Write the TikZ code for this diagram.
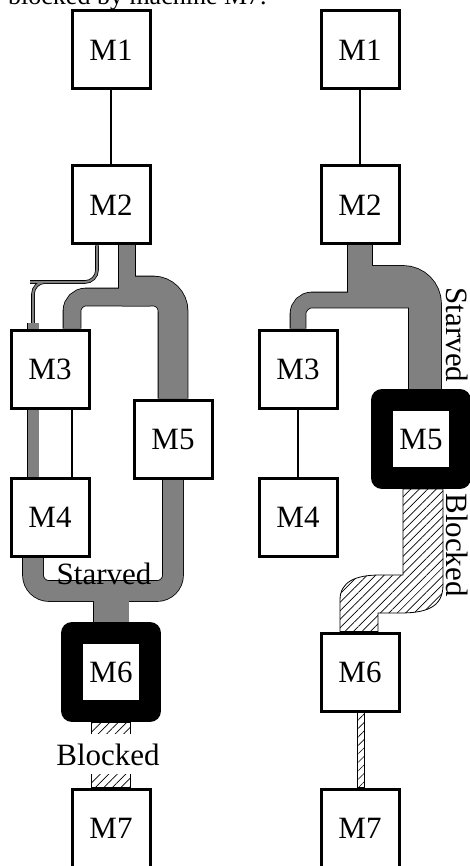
\documentclass[tikz,border=0pt]{standalone}
\usepackage{fontspec}
\setmainfont{Liberation Serif}
\usetikzlibrary{patterns.meta}
\definecolor{FlowGray}{HTML}{808080}
\pgfdeclarelayer{bg}
\pgfsetlayers{bg,main}
% gray material flows, drawn twice (outline pass, then fill pass)
\newcommand{\grayflows}{%
  % left line
  \draw[band=16pt] ([xshift=16]am2.south) -- (127,292);
  \draw[band=17pt, rounded corners=14pt] ([xshift=22]am3.north) |- (150,297);
  \draw[band=29pt, rounded corners=20pt] (122,291) -| (am5.north);
  \draw[band=2pt, rounded corners=12pt] ([xshift=-14]am2.south) |- (42,282) -| ([xshift=-17]am3.north);
  \draw[band=11pt] ([xshift=-17]am3.north) -- ++(0,-6);
  \draw[band=11pt] ([xshift=-17]am3.south) -- ([xshift=-17]am4.north);
  \draw[band=20pt, rounded corners=16pt] ([xshift=-17]am4.south) |- (118,591);
  \draw[band=20pt, rounded corners=16pt] (am5.south) |- (104,591);
  \draw[band=35pt] (111,596) -- (am6.north);
  % right line
  \draw[band=24pt] (bm2.south) -- (360,294);
  \draw[band=32pt, rounded corners=22pt] (352,282) -| ([xshift=4]bm5.north);
  \draw[band=15pt, rounded corners=14pt] (415,300) -| (bm3.north);
}

\begin{document}
\begin{tikzpicture}[x=1pt, y=-1pt,
  machine/.style={rectangle, draw, line width=3pt, fill=white,
    minimum size=78pt, inner sep=0pt, font=\fontsize{31pt}{36pt}\selectfont},
  jammed/.style={machine, line width=22pt, line join=round},
  hatch/.style={draw, line width=0.8pt,
    pattern={Lines[angle=45, distance=6pt, line width=0.7pt]}},
  tag/.style={inner sep=0pt, font=\fontsize{31pt}{36pt}\selectfont}
]
  \useasboundingbox (0,0) rectangle (470,866);

  \node[anchor=base west, inner sep=0pt, font=\fontsize{26pt}{30pt}\selectfont] (cap) at (8,5) {blocked by machine M7.};

  % left: M6 is the bottleneck
  \node[machine] (am1) at (111,50) {M1};
  \node[machine] (am2) at (111,205) {M2};
  \node[machine] (am3) at (50,369) {M3};
  \node[machine] (am4) at (50,517) {M4};
  \node[machine] (am5) at (173,439) {M5};
  \node[jammed] (am6) at (111,672) {M6};
  \node[machine] (am7) at (111,828) {M7};

  % right: M5 is the bottleneck
  \node[machine] (bm1) at (360,50) {M1};
  \node[machine] (bm2) at (360,205) {M2};
  \node[machine] (bm3) at (298,369) {M3};
  \node[machine] (bm4) at (298,517) {M4};
  \node[jammed] (bm5) at (421,439) {M5};
  \node[machine] (bm6) at (360,672) {M6};
  \node[machine] (bm7) at (360,828) {M7};

  \begin{pgfonlayer}{bg}
    \begin{scope}[band/.style={draw=black, line width=#1+1.6pt}]
      \grayflows
    \end{scope}
    \begin{scope}[band/.style={draw=FlowGray, line width=#1}]
      \grayflows
    \end{scope}
    \draw[hatch] ([xshift=-20]am6.south) rectangle ([xshift=19]am7.north);
    \draw[hatch] ([xshift=-18]bm5.south) -- ([xshift=22]bm5.south) -- (443,585)
      .. controls (443,608) and (425,613) .. (400,613) -- (378,613)
      -- ([xshift=18]bm6.north) -- ([xshift=-20]bm6.north) -- (340,600)
      .. controls (340,582) and (355,575) .. (380,575) -- (403,575) -- cycle;
    \draw[hatch, pattern={Lines[angle=45, distance=6pt, line width=0.6pt]}]
      ([xshift=-3]bm6.south) rectangle ([xshift=4]bm7.north);
  \end{pgfonlayer}

  \draw[line width=1.2pt] (am1) -- (am2);
  \draw[line width=1.2pt] ([xshift=22]am3.south) -- ([xshift=22]am4.north);
  \draw[line width=1.2pt] (bm1) -- (bm2);
  \draw[line width=1.2pt] (bm3) -- (bm4);

  \node[tag, anchor=base] (astv) at (104,584) {Starved};
  \node[tag, anchor=base, fill=white, inner sep=9pt] (ablk) at (108,765) {Blocked};
  \node[tag, rotate=-90] (bstv) at (457,335) {Starved};
  \node[tag, rotate=-90] (bblk) at (457,545) {Blocked};
\end{tikzpicture}
\end{document}
